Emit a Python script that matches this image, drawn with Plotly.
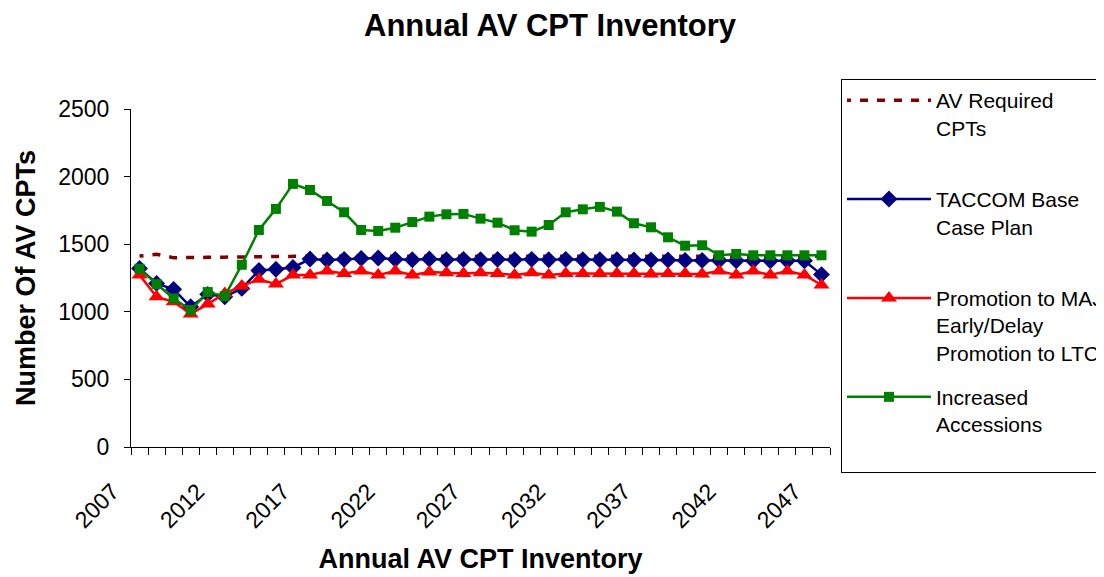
import plotly.graph_objects as go

years = list(range(2007, 2048))

av_required = [1412, 1425, 1400, 1402, 1405, 1406, 1410, 1410, 1410, 1410,
               1410, 1410, 1410, 1410, 1410, 1410, 1410, 1410, 1410, 1410,
               1410, 1410, 1410, 1410, 1410, 1410, 1410, 1410, 1410, 1410,
               1410, 1410, 1410, 1410, 1410, 1410, 1410, 1410, 1410, 1410, 1410]

taccom_base = [1321, 1210, 1166, 1037, 1129, 1111, 1173, 1305, 1315, 1328,
               1390, 1383, 1388, 1395, 1398, 1388, 1385, 1390, 1385, 1388,
               1385, 1388, 1385, 1388, 1385, 1388, 1385, 1385, 1385, 1383,
               1383, 1383, 1380, 1380, 1380, 1378, 1378, 1378, 1378, 1378, 1275]

promotion = [1272, 1111, 1074, 983, 1057, 1136, 1190, 1240, 1205, 1272,
             1272, 1301, 1284, 1301, 1272, 1301, 1272, 1295, 1289, 1284,
             1289, 1284, 1272, 1289, 1272, 1284, 1284, 1284, 1284, 1284,
             1280, 1284, 1284, 1280, 1301, 1272, 1301, 1272, 1301, 1272, 1198]

increased = [1319, 1205, 1099, 1013, 1146, 1116, 1348, 1605, 1761, 1946,
             1901, 1820, 1736, 1605, 1598, 1622, 1664, 1704, 1721, 1724,
             1689, 1659, 1603, 1593, 1642, 1736, 1758, 1776, 1741, 1655,
             1625, 1551, 1489, 1492, 1418, 1428, 1418, 1418, 1418, 1418, 1418]

label_years = years[::5]

font = "Arial, Liberation Sans, sans-serif"

fig = go.Figure()
fig.add_trace(go.Scatter(x=years, y=av_required, mode="lines", legendgroup="a",
                         name="AV Required<br>CPTs<br> ",
                         line=dict(color="#800000", width=3.5, dash="4px,9px,4px,0px")))
fig.add_trace(go.Scatter(x=years, y=taccom_base, mode="lines+markers", legendgroup="b",
                         name="TACCOM Base<br>Case Plan<br> ",
                         line=dict(color="#000080", width=2.5),
                         marker=dict(symbol="diamond", size=13, color="#000080")))
fig.add_trace(go.Scatter(x=years, y=promotion, mode="lines+markers", legendgroup="c",
                         name="Promotion to MAJ<br>Early/Delay<br>Promotion to LTC",
                         line=dict(color="#FF0000", width=2.5),
                         marker=dict(symbol="triangle-up", size=14, color="#FF0000")))
fig.add_trace(go.Scatter(x=years, y=increased, mode="lines+markers", legendgroup="d",
                         name="Increased<br>Accessions<br> ",
                         line=dict(color="#008000", width=2.5),
                         marker=dict(symbol="square", size=10, color="#008000")))

# page body adds an 8px offset, so the figure is laid out 8px up/left
fig.update_layout(
    width=1104, height=577,
    paper_bgcolor="white", plot_bgcolor="white",
    font=dict(family=font, color="black"),
    margin=dict(l=123, r=282, t=101, b=138, autoexpand=False),
    title=dict(text="<b>Annual AV CPT Inventory</b>", font=dict(size=31),
               x=0.491, xref="container", xanchor="center",
               y=0.9705, yref="container", yanchor="middle"),
    legend=dict(x=1.0157, xanchor="left", y=1.0888, yanchor="top",
                bordercolor="black", borderwidth=1, bgcolor="white",
                font=dict(size=21), valign="top", itemwidth=84,
                tracegroupgap=14, maxheight=450),
    xaxis=dict(range=[years[0] - 0.5, years[-1] + 0.5], showgrid=False, zeroline=False,
               showline=True, linecolor="black", linewidth=1,
               tickmode="array", tickvals=label_years,
               ticktext=[str(y) for y in label_years], ticks="",
               tickangle=-45, tickfont=dict(size=23),
               ticklabelstandoff=21, ticklabelshift=-27,
               minor=dict(tickmode="array", tickvals=[y - 0.5 for y in years] + [years[-1] + 0.5],
                          ticks="outside", ticklen=7, tickcolor="black", showgrid=False),
               title=dict(text="<b>Annual AV CPT Inventory</b>", font=dict(size=27), standoff=17)),
    yaxis=dict(range=[0, 2500], dtick=500, showgrid=False, zeroline=False,
               showline=True, linecolor="black", linewidth=1,
               ticks="outside", ticklen=6, tickcolor="black",
               tickfont=dict(size=23), ticklabelstandoff=10,
               title=dict(text="<b>Number Of AV CPTs</b>", font=dict(size=27), standoff=14)),
)

fig.write_html("out.html")
